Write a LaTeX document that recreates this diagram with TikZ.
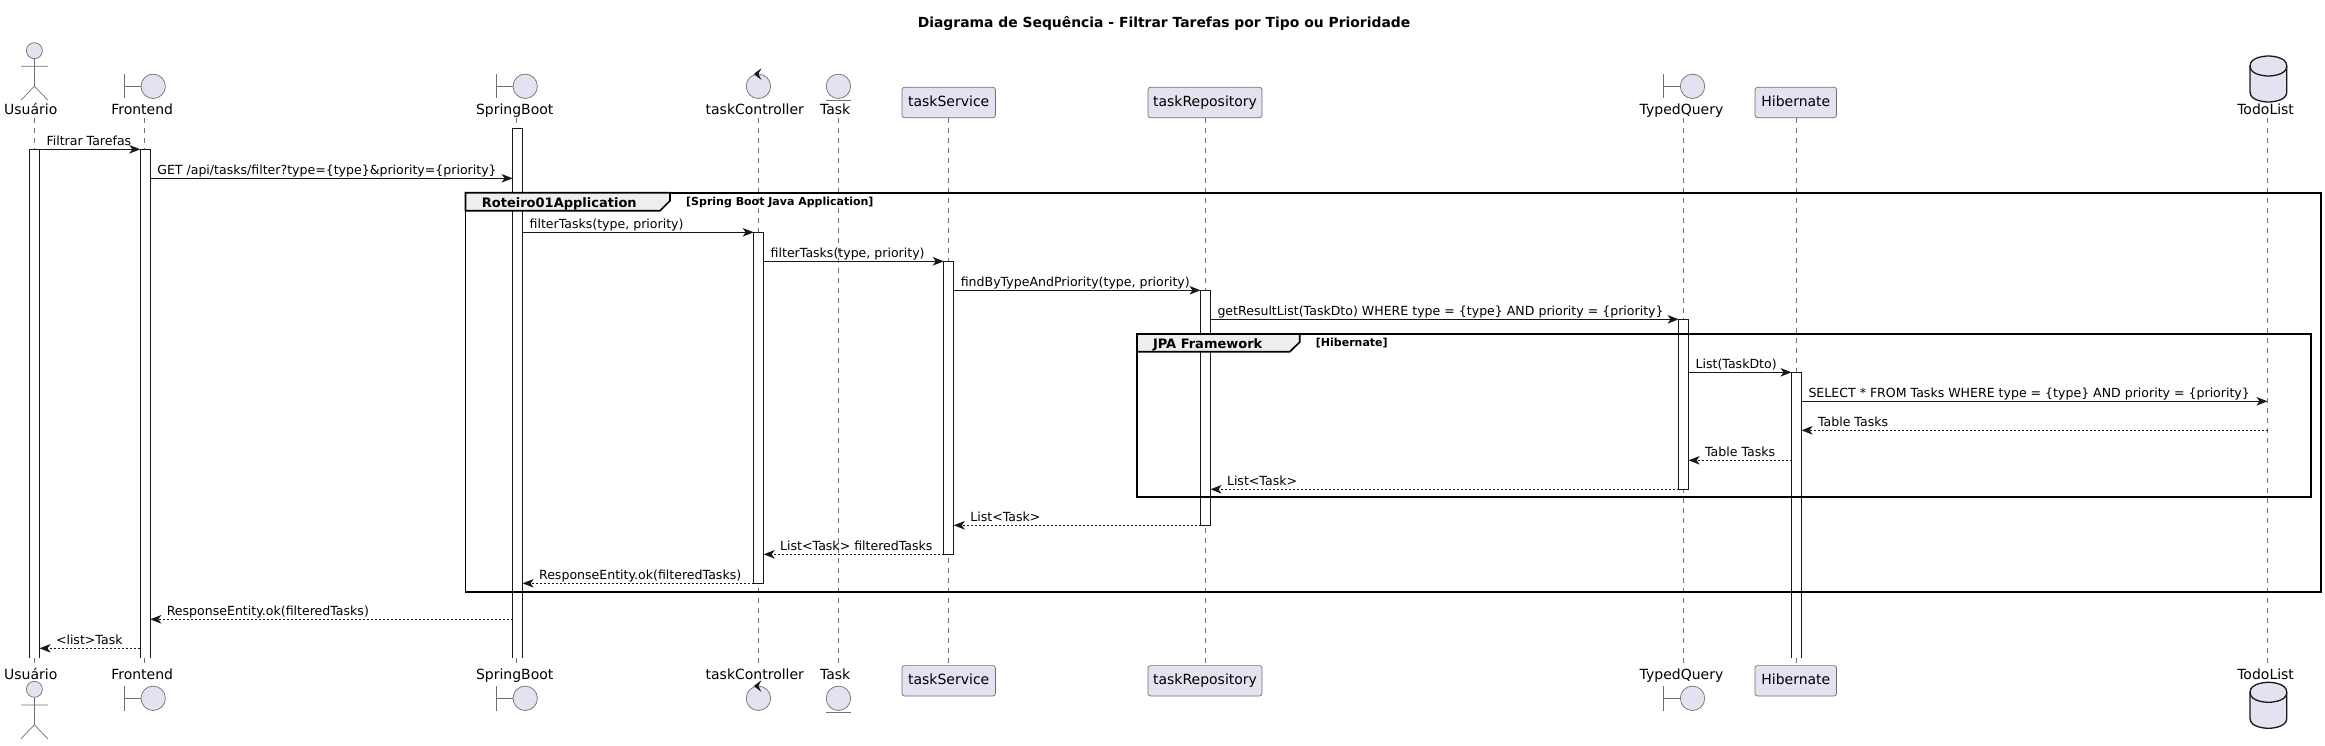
\documentclass[tikz,border=0pt]{standalone}
\usepackage{fontspec}
\setmainfont{DejaVu Sans}
\usetikzlibrary{arrows.meta}
\definecolor{lineC}{HTML}{181818}
\definecolor{thinC}{HTML}{707070}
\definecolor{partC}{HTML}{E2E2F0}
\definecolor{tabC}{HTML}{EEEEEE}
\tikzset{
  x=1pt, y=-1pt,
  partname/.style={anchor=base, inner sep=0pt, font=\fontsize{14}{16}\selectfont},
  partbox/.style={draw=thinC, fill=partC, line width=.7pt, rounded corners=2.5pt, inner sep=0pt, outer sep=0pt, minimum height=30.4pt, text height=11pt, text depth=3pt, font=\fontsize{14}{16}\selectfont},
  lifeline/.style={draw=thinC, line width=.6pt, dash pattern=on 5pt off 5pt},
  activ/.style={draw=lineC, fill=white, line width=1pt, inner sep=0pt, outer sep=0pt, minimum width=10pt},
  activopen/.style={fill=white, inner sep=0pt, outer sep=0pt, minimum width=10pt},
  activedge/.style={draw=lineC, line width=1pt},
  groupbox/.style={draw=black, line width=1.7pt, inner sep=0pt, outer sep=0pt},
  grouptab/.style={draw=black, fill=tabC, line width=1.7pt},
  groupname/.style={anchor=base west, inner sep=0pt, font=\fontsize{13}{15}\selectfont\bfseries},
  groupcond/.style={anchor=base west, inner sep=0pt, font=\fontsize{11}{13}\selectfont\bfseries},
  call/.style={color=lineC, line width=1pt, -{Stealth[length=11pt,width=8.5pt,inset=3pt]}},
  back/.style={call, dash pattern=on 2pt off 2pt},
  calltext/.style={pos=0, anchor=base west, xshift=6.5, yshift=4, inner sep=0pt, text=black, font=\fontsize{12.55}{15}\selectfont},
  backtext/.style={pos=1, anchor=base west, xshift=16, yshift=4, inner sep=0pt, text=black, font=\fontsize{12.55}{15}\selectfont},
  figline/.style={draw=thinC, line width=.7pt},
  actorfig/.pic={
    \draw[figline, fill=partC] (0,0) circle[radius=8pt];
    \draw[figline] (0,8) -- (0,35.5) (-13.4,15.6) -- (13.4,15.6) (-13.4,49.5) -- (0,35.5) -- (13.4,49.5);
  },
  boundaryfig/.pic={
    \draw[figline, fill=partC] (8.9,0) circle[radius=12.2pt];
    \draw[figline] (-19.9,-12) -- (-19.9,12.2) (-19.9,0) -- (-3.3,0);
  },
  controlfig/.pic={
    \draw[figline, fill=partC] (0,0) circle[radius=12.2pt];
    \fill[lineC] (-4.6,-12.3) -- (3,-18) -- (0,-12.3) -- (3,-6.4) -- cycle;
  },
  entityfig/.pic={
    \draw[figline, fill=partC] (0,0) circle[radius=12.2pt];
    \draw[figline] (-12.4,14) -- (12.4,14);
  },
  dbfig/.pic={
    \draw[draw=lineC, line width=1.3pt, fill=partC] (-18.4,10) .. controls (-18.4,0) and (0,0) .. (0,0) .. controls (0,0) and (18.4,0) .. (18.4,10) -- (18.4,36) .. controls (18.4,46) and (0,46) .. (0,46) .. controls (0,46) and (-18.4,46) .. (-18.4,36) -- cycle;
    \draw[draw=lineC, line width=1.3pt] (-18.4,10) .. controls (-18.4,20) and (0,20) .. (0,20) .. controls (0,20) and (18.4,20) .. (18.4,10);
  }
}
\begin{document}
\begin{tikzpicture}
  \useasboundingbox (0,0) rectangle (2325,746);
  \node [inner sep=0pt, font=\fontsize{13.9}{16}\selectfont\bfseries] (title) at (1164,23) {Diagrama de Sequência - Filtrar Tarefas por Tipo ou Prioridade};

  % participants, top
  \pic at (34.4,50.7) {actorfig};
  \node [partname] (userT) at (30.8,115) {Usuário};
  \pic at (144.3,86.3) {boundaryfig};
  \node [partname] (frontT) at (142.2,115) {Frontend};
  \pic at (516.3,86.3) {boundaryfig};
  \node [partname] (springT) at (514.7,115) {SpringBoot};
  \pic at (758.4,86.3) {controlfig};
  \node [partname] (ctrlT) at (754.8,115) {taskController};
  \pic at (838.4,86.3) {entityfig};
  \node [partname] (taskT) at (835.2,115) {Task};
  \node [partbox, minimum width=93.4pt] (servT) at (948.7,102.5) {taskService};
  \node [partbox, minimum width=114pt] (repoT) at (1205,102.5) {taskRepository};
  \pic at (1683.6,86.3) {boundaryfig};
  \node [partname] (queryT) at (1681.5,115) {TypedQuery};
  \node [partbox, minimum width=81.5pt] (hibT) at (1795.8,102.5) {Hibernate};
  \pic at (2268.4,56) {dbfig};
  \node [partname] (todoT) at (2265.6,115) {TodoList};

  % participants, bottom
  \pic at (34.4,689.3) {actorfig};
  \node [partname] (userB) at (30.8,679) {Usuário};
  \pic at (144.3,698.3) {boundaryfig};
  \node [partname] (frontB) at (142.2,679) {Frontend};
  \pic at (516.3,698.3) {boundaryfig};
  \node [partname] (springB) at (514.7,679) {SpringBoot};
  \pic at (758.4,698.3) {controlfig};
  \node [partname] (ctrlB) at (754.8,679) {taskController};
  \pic at (838.4,698.3) {entityfig};
  \node [partname] (taskB) at (835.2,679) {Task};
  \node [partbox, minimum width=93.4pt] (servB) at (948.7,680.8) {taskService};
  \node [partbox, minimum width=114pt] (repoB) at (1205,680.8) {taskRepository};
  \pic at (1683.6,698.3) {boundaryfig};
  \node [partname] (queryB) at (1681.5,679) {TypedQuery};
  \node [partbox, minimum width=81.5pt] (hibB) at (1795.8,680.8) {Hibernate};
  \pic at (2268.4,682.3) {dbfig};
  \node [partname] (todoB) at (2265.6,679) {TodoList};

  % lifelines
  \coordinate (userU) at (34.4,118);   \coordinate (userD) at (34.4,664);
  \coordinate (frontU) at (144.3,118); \coordinate (frontD) at (144.3,664);
  \coordinate (springU) at (516.3,118); \coordinate (springD) at (516.3,664);
  \coordinate (ctrlU) at (758.4,118);  \coordinate (ctrlD) at (758.4,664);
  \coordinate (taskU) at (838.4,118);  \coordinate (taskD) at (838.4,664);
  \coordinate (queryU) at (1683.6,118); \coordinate (queryD) at (1683.6,664);
  \coordinate (todoU) at (2267.5,118); \coordinate (todoD) at (2267.5,664);
  \path [lifeline] (userU) -- (userD);
  \path [lifeline] (frontU) -- (frontD);
  \path [lifeline] (springU) -- (springD);
  \path [lifeline] (ctrlU) -- (ctrlD);
  \path [lifeline] (taskU) -- (taskD);
  \path [lifeline] (servT) -- (servB);
  \path [lifeline] (repoT) -- (repoB);
  \path [lifeline] (queryU) -- (queryD);
  \path [lifeline] (hibT) -- (hibB);
  \path [lifeline] (todoU) -- (todoD);

  % activations
  \node [activopen, minimum height=508.7pt] (aUser) at (34.5,403.65) {};
  \node [activopen, minimum height=508.7pt] (aFront) at (145.3,403.65) {};
  \node [activopen, minimum height=529.7pt] (aSpring) at (517.6,393.15) {};
  \node [activ, minimum height=351pt] (aCtrl) at (758.7,407.8) {};
  \node [activ, minimum height=293pt] (aServ) at (948.8,407.8) {};
  \node [activ, minimum height=235pt] (aRepo) at (1205.5,407.8) {};
  \node [activ, minimum height=170pt] (aQuery) at (1683.6,404.3) {};
  \node [activopen, minimum height=285.7pt] (aHib) at (1796.5,515.15) {};
  \draw [activedge] (aUser.south west) -- (aUser.north west) -- (aUser.north east) -- (aUser.south east);
  \draw [activedge] (aFront.south west) -- (aFront.north west) -- (aFront.north east) -- (aFront.south east);
  \draw [activedge] (aSpring.south west) -- (aSpring.north west) -- (aSpring.north east) -- (aSpring.south east);
  \draw [activedge] (aHib.south west) -- (aHib.north west) -- (aHib.north east) -- (aHib.south east);

  % groups
  \node [groupbox, minimum width=1855.5pt, minimum height=399pt] (gMain) at (1393.15,392.2) {};
  \draw [grouptab] (gMain.north west) -- ++(204.6,0) -- ++(0,8) -- ++(-10,10) -- ++(-194.6,0) -- cycle;
  \node [groupname] (gMainName) at (481.7,207.3) {Roteiro01Application};
  \node [groupcond] (gMainCond) at (686,206) {[Spring Boot Java Application]};
  \node [groupbox, minimum width=1173.8pt, minimum height=163.3pt] (gJpa) at (1723.9,415.65) {};
  \draw [grouptab] (gJpa.north west) -- ++(162.8,0) -- ++(0,8) -- ++(-10,9.7) -- ++(-152.8,0) -- cycle;
  \node [groupname] (gJpaName) at (1152.8,348.3) {JPA Framework};
  \node [groupcond] (gJpaCond) at (1315.7,346.7) {[Hibernate]};

  % messages
  \coordinate (m1) at (0,149.3);
  \coordinate (m2) at (0,178.3);
  \coordinate (m3) at (0,232.3);
  \coordinate (m4) at (0,261.3);
  \coordinate (m5) at (0,290.3);
  \coordinate (m6) at (0,319.3);
  \coordinate (m7) at (0,372.3);
  \coordinate (m8) at (0,401.3);
  \coordinate (m9) at (0,430.3);
  \coordinate (m10) at (0,460.3);
  \coordinate (m11) at (0,489.3);
  \coordinate (m12) at (0,525.3);
  \coordinate (m13) at (0,554.3);
  \coordinate (m14) at (0,583.3);
  \coordinate (m15) at (0,619.3);
  \coordinate (m16) at (0,648.3);

  \path [call] (aUser.east |- m1) edge node [calltext] {Filtrar Tarefas} (aFront.west |- m1);
  \path [call] (aFront.east |- m2) edge node [calltext] {GET /api/tasks/filter?type=\{type\}\&priority=\{priority\}} (aSpring.west |- m2);
  \path [call] (aSpring.east |- m3) edge node [calltext] {filterTasks(type, priority)} (aCtrl.west |- m3);
  \path [call] (aCtrl.east |- m4) edge node [calltext] {filterTasks(type, priority)} (aServ.west |- m4);
  \path [call] (aServ.east |- m5) edge node [calltext] {findByTypeAndPriority(type, priority)} (aRepo.west |- m5);
  \path [call] (aRepo.east |- m6) edge node [calltext] {getResultList(TaskDto) WHERE type = \{type\} AND priority = \{priority\}} (aQuery.west |- m6);
  \path [call] (aQuery.east |- m7) edge node [calltext] {List(TaskDto)} (aHib.west |- m7);
  \path [call] (aHib.east |- m8) edge node [calltext] {SELECT * FROM Tasks WHERE type = \{type\} AND priority = \{priority\}} (todoU |- m8);
  \path [back] (todoU |- m9) edge node [backtext] {Table Tasks} (aHib.east |- m9);
  \path [back] (aHib.west |- m10) edge node [backtext] {Table Tasks} (aQuery.east |- m10);
  \path [back] (aQuery.west |- m11) edge node [backtext] {List<Task>} (aRepo.east |- m11);
  \path [back] (aRepo.west |- m12) edge node [backtext] {List<Task>} (aServ.east |- m12);
  \path [back] (aServ.west |- m13) edge node [backtext] {List<Task> filteredTasks} (aCtrl.east |- m13);
  \path [back] (aCtrl.west |- m14) edge node [backtext] {ResponseEntity.ok(filteredTasks)} (aSpring.east |- m14);
  \path [back] (aSpring.west |- m15) edge node [backtext] {ResponseEntity.ok(filteredTasks)} (aFront.east |- m15);
  \path [back] (aFront.west |- m16) edge node [backtext] {<list>Task} (aUser.east |- m16);
\end{tikzpicture}
\end{document}
